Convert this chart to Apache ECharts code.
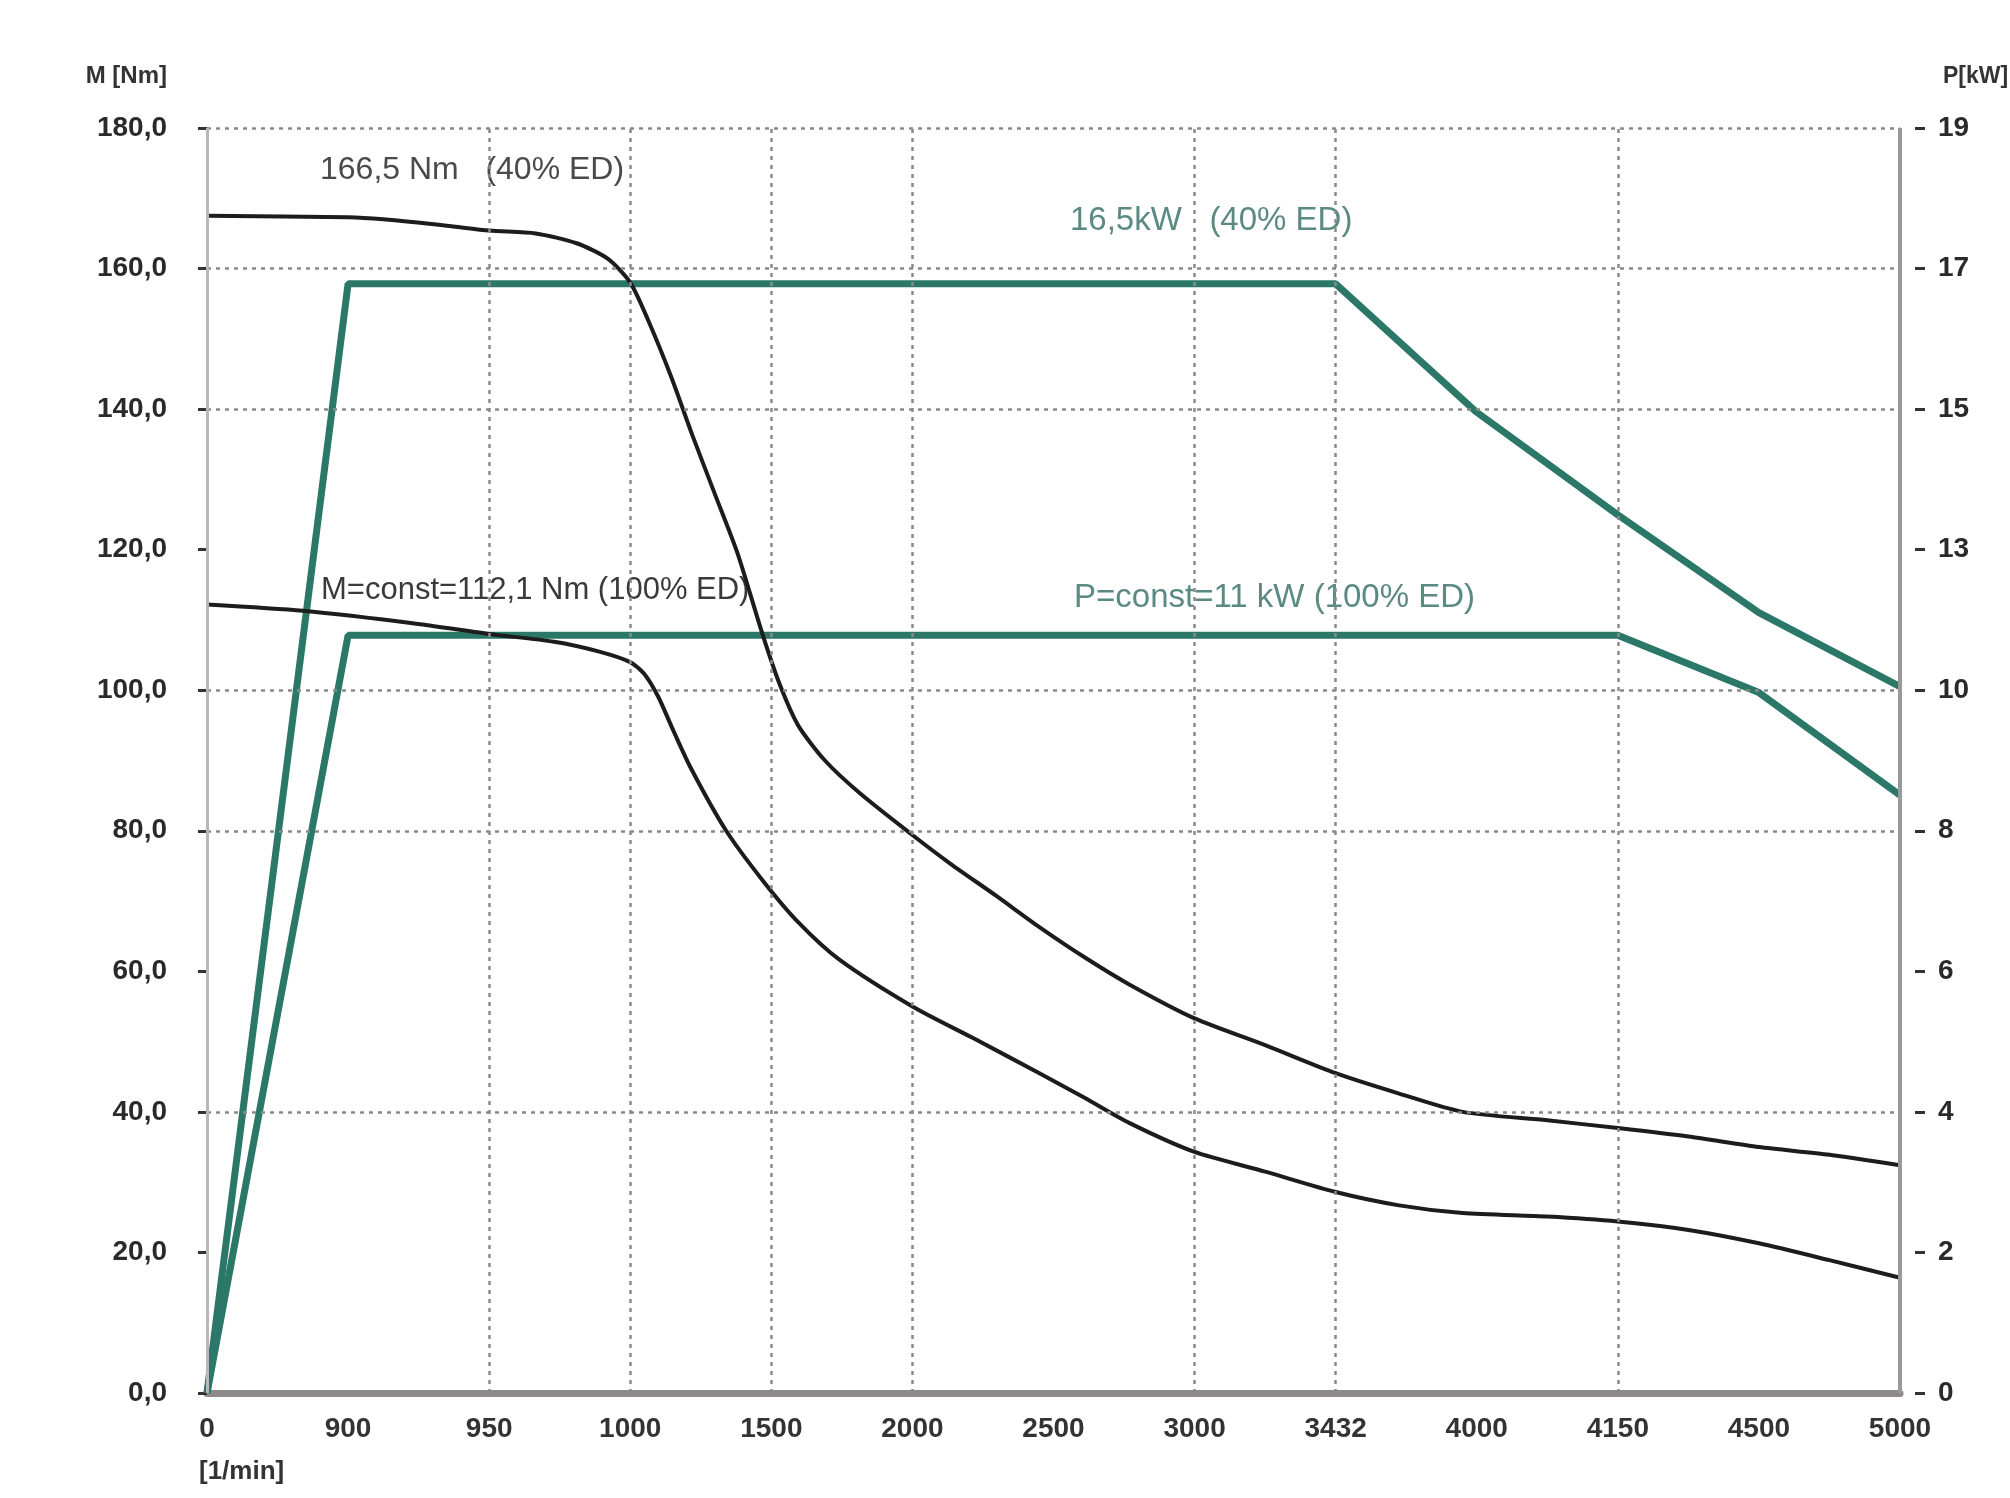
<!DOCTYPE html>
<html>
<head>
<meta charset="utf-8">
<script src="https://cdn.jsdelivr.net/npm/echarts@6/dist/echarts.min.js"></script>
<style>
html,body{margin:0;padding:0;background:#fff;}
#chart{width:2010px;height:1498px;}
</style>
</head>
<body>
<div id="chart"></div>
<script>
// x tick labels (speed, 1/min) – ticks are evenly spaced on the chart
const xTickLabels = ['0','900','950','1000','1500','2000','2500','3000','3432','4000','4150','4500','5000'];
// right axis labels (kW)
const rightTickLabels = ['0','2','4','6','8','10','13','15','17','19'];
const RIGHT_MAX = 19;

// x positions are given in tick-slot units (0 = "0", 12 = "5000")
const torque40X = [0, 1.0, 1.25, 1.7, 2.0, 2.33, 2.62, 2.84, 3.0, 3.13, 3.29, 3.44, 3.6, 3.76, 3.94, 4.06, 4.19, 4.38, 4.63, 5.0, 5.27, 5.59, 5.9, 6.22, 6.54, 7.0, 7.5, 8.0, 8.45, 8.9, 9.5, 10.0, 10.5, 11.0, 11.5, 12.0];
const torque40Y = [167.5, 167.3, 167.0, 166.1, 165.4, 165.0, 163.6, 161.4, 158.0, 152.5, 144.6, 136.3, 127.9, 119.5, 107.8, 100.8, 95.0, 90.0, 85.3, 79.4, 75.3, 70.8, 66.3, 62.0, 58.1, 53.3, 49.5, 45.5, 42.6, 40.0, 38.8, 37.7, 36.5, 35.0, 33.9, 32.4];

const torque100X = [0, 0.68, 1.51, 2.0, 2.46, 2.78, 3.0, 3.1, 3.2, 3.3, 3.43, 3.68, 3.94, 4.19, 4.48, 5.0, 5.43, 5.9, 6.22, 6.54, 7.0, 7.5, 8.0, 8.45, 8.9, 9.5, 10.0, 10.5, 11.0, 11.5, 12.0];
const torque100Y = [112.2, 111.3, 109.4, 108.0, 106.9, 105.5, 104.0, 102.3, 99.0, 94.5, 88.9, 80.0, 72.9, 67.0, 61.7, 55.0, 50.5, 45.5, 42.0, 38.4, 34.3, 31.5, 28.6, 26.7, 25.6, 25.1, 24.4, 23.2, 21.3, 18.9, 16.4];

// power curves (kW, right axis)
const power40X = [0, 1.0, 8.0, 9.0, 10.0, 11.0, 12.0];
const power40Y = [0, 16.66, 16.66, 14.73, 13.19, 11.72, 10.61];
const power100X = [0, 1.0, 10.0, 11.0, 12.0];
const power100Y = [0, 11.38, 11.38, 10.52, 8.98];

// grid lines present in the original
const gridX = [2, 3, 4, 5, 7, 8, 10];
const gridY = [40, 80, 100, 140, 160, 180];

const zip = (xs, ys) => xs.map((x, i) => [x, ys[i]]);

const FONT = '"Liberation Sans", Arial, sans-serif';
const chart = echarts.init(document.getElementById('chart'), null, {renderer: 'canvas'});

const gridStyle = {color: '#8a8a8a', width: 2.5, type: [4, 5]};
const markData = [];
gridX.forEach(x => markData.push({xAxis: x, lineStyle: gridStyle}));
gridY.forEach(y => markData.push({yAxis: y, lineStyle: gridStyle}));
markData.push({xAxis: 0, lineStyle: {color: '#b8b8b8', width: 3, type: 'solid'}});
markData.push({xAxis: 12, lineStyle: {color: '#999999', width: 4, type: 'solid'}});

const rightInterval = RIGHT_MAX / (rightTickLabels.length - 1);

const option = {
  animation: false,
  backgroundColor: '#ffffff',
  grid: {left: 207, right: 110, top: 128, bottom: 105, containLabel: false, outerBoundsMode: 'none'},
  xAxis: {
    type: 'value', min: 0, max: 12, interval: 1,
    axisLine: {show: true, lineStyle: {color: '#8e898b', width: 7}},
    axisTick: {show: false},
    splitLine: {show: false},
    axisLabel: {
      margin: 22, fontSize: 28, fontWeight: 'bold', color: '#333', fontFamily: FONT,
      showMinLabel: true, showMaxLabel: true,
      formatter: v => xTickLabels[Math.round(v)] || ''
    }
  },
  yAxis: [
    {
      type: 'value', min: 0, max: 180, interval: 20, offset: 10,
      axisLine: {show: false},
      axisTick: {show: true, length: 9, lineStyle: {color: '#333', width: 3}},
      splitLine: {show: false},
      axisLabel: {
        margin: 30, fontSize: 28, fontWeight: 'bold', color: '#2a2a2a', fontFamily: FONT,
        formatter: v => v.toFixed(1).replace('.', ',')
      }
    },
    {
      type: 'value', min: 0, max: RIGHT_MAX, interval: rightInterval, offset: 15, position: 'right',
      axisLine: {show: false},
      axisTick: {show: true, length: 10, lineStyle: {color: '#333', width: 3}},
      splitLine: {show: false},
      axisLabel: {
        margin: 23, fontSize: 28, fontWeight: 'bold', color: '#2a2a2a', fontFamily: FONT,
        formatter: v => rightTickLabels[Math.round(v / rightInterval)] || ''
      }
    }
  ],
  series: [
    {
      type: 'line', name: 'grid', data: [], z: 1, silent: true,
      markLine: {silent: true, symbol: ['none', 'none'], label: {show: false}, animation: false, data: markData}
    },
    {
      type: 'line', name: 'P 40% ED', yAxisIndex: 1, z: 2, showSymbol: false, smooth: false,
      lineStyle: {color: '#2b7868', width: 7}, data: zip(power40X, power40Y)
    },
    {
      type: 'line', name: 'P 100% ED', yAxisIndex: 1, z: 2, showSymbol: false, smooth: false,
      lineStyle: {color: '#2b7868', width: 7}, data: zip(power100X, power100Y)
    },
    {
      type: 'line', name: 'M 40% ED', z: 3, showSymbol: false, smooth: 0.25,
      lineStyle: {color: '#1c1c1c', width: 4}, data: zip(torque40X, torque40Y)
    },
    {
      type: 'line', name: 'M 100% ED', z: 3, showSymbol: false, smooth: 0.25,
      lineStyle: {color: '#1c1c1c', width: 4}, data: zip(torque100X, torque100Y)
    }
  ],
  graphic: [
    {type: 'text', x: 167, y: 76, style: {text: 'M [Nm]', font: 'bold 24px ' + FONT, fill: '#333', textAlign: 'right', textVerticalAlign: 'middle'}},
    {type: 'text', x: 1943, y: 77, style: {text: 'P[kW]', font: 'bold 23px ' + FONT, fill: '#333', textAlign: 'left', textVerticalAlign: 'middle'}},
    {type: 'text', x: 199, y: 1472, style: {text: '[1/min]', font: 'bold 26px ' + FONT, fill: '#333', textAlign: 'left', textVerticalAlign: 'middle'}},
    {type: 'text', x: 320, y: 170, style: {text: '166,5 Nm   (40% ED)', font: '32px ' + FONT, fill: '#4a4a4a', textAlign: 'left', textVerticalAlign: 'middle'}},
    {type: 'text', x: 1070, y: 221, style: {text: '16,5kW   (40% ED)', font: '33px ' + FONT, fill: '#5b8a82', textAlign: 'left', textVerticalAlign: 'middle'}},
    {type: 'text', x: 321, y: 590, style: {text: 'M=const=112,1 Nm (100% ED)', font: '31px ' + FONT, fill: '#3a3a3a', textAlign: 'left', textVerticalAlign: 'middle'}},
    {type: 'text', x: 1074, y: 598, style: {text: 'P=const=11 kW (100% ED)', font: '33px ' + FONT, fill: '#5b8a82', textAlign: 'left', textVerticalAlign: 'middle'}}
  ]
};
chart.setOption(option);
</script>
</body>
</html>
